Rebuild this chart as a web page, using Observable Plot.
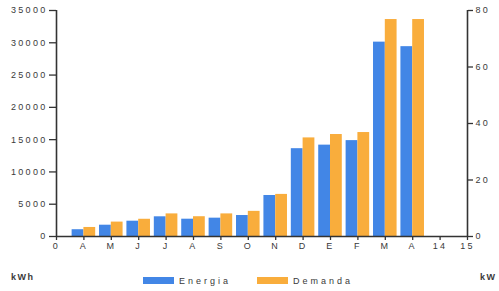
<!DOCTYPE html>
<html>
<head>
<meta charset="utf-8">
<script src="https://cdn.jsdelivr.net/npm/d3@7"></script>
<script src="https://cdn.jsdelivr.net/npm/@observablehq/plot@0.6"></script>
<style>
  html, body { margin:0; padding:0; background:#fff; width:499px; height:291px; overflow:hidden; }
  #wrap { position:relative; width:499px; height:291px; font-family:"Liberation Sans", Arial, sans-serif; color:#3a3a3a; }
  .lab { position:absolute; font-size:9px; letter-spacing:2.2px; white-space:nowrap; line-height:10px; }
  .sw { position:absolute; width:31px; height:7px; }
</style>
</head>
<body>
<div id="wrap"></div>
<script>
// Data
const categories = ["A","M","J","J","A","S","O","N","D","E","F","M","A"];
const energia = [1050, 1750, 2370, 3050, 2680, 2840, 3250, 6350, 13600, 14150, 14850, 30100, 29400]; // kWh
const demanda = [3.2, 5.1, 6.1, 8.0, 7.0, 8.0, 8.9, 14.9, 34.9, 36.1, 36.8, 76.8, 76.8]; // kW
const tickLabels = ["0","A","M","J","J","A","S","O","N","D","E","F","M","A","14","15"];
const leftTicks = [0, 5000, 10000, 15000, 20000, 25000, 30000, 35000];
const rightTicks = [0, 20, 40, 60, 80];
const seriesNames = ["Energia", "Demanda"];
const colors = ["#4286e6", "#f9ad3c"];

const k = 35000 / 80; // right-axis (kW) to left-axis (kWh) scale factor
const rows = categories.map((c, i) => ({pos: i + 1, cat: c, energia: energia[i], demanda: demanda[i]}));
const bw = 0.43;

const chart = Plot.plot({
  width: 499,
  height: 258,
  marginLeft: 56,
  marginRight: 32,
  marginTop: 10,
  marginBottom: 22,
  x: {domain: [0, 15]},
  y: {domain: [0, 35000]},
  style: {fontFamily: "'Liberation Sans', Arial, sans-serif", fontSize: "9px", letterSpacing: "2.3px", color: "#3a3a3a", background: "#fff"},
  marks: [
    Plot.rectY(rows, {x1: d => d.pos - bw, x2: d => d.pos, y: "energia", fill: colors[0]}),
    Plot.rectY(rows, {x1: d => d.pos, x2: d => d.pos + bw, y: d => d.demanda * k, fill: colors[1]}),
    Plot.axisY({anchor: "left", ticks: leftTicks, tickSize: 7, tickPadding: 2, tickFormat: d3.format("d"), label: null, stroke: "#333", strokeWidth: 1.3}),
    Plot.axisY({anchor: "right", ticks: rightTicks.map(v => v * k), tickSize: 5, tickPadding: 3, tickFormat: v => String(Math.round(v / k)), label: null, stroke: "#333", strokeWidth: 1.3}),
    Plot.axisX({ticks: d3.range(0, 16), tickSize: 4, tickPadding: 2, tickFormat: i => tickLabels[i], label: null, stroke: "#333", strokeWidth: 1.3}),
    Plot.ruleX([0, 15], {stroke: "#333", strokeWidth: 1.6}),
    Plot.ruleY([0], {stroke: "#333", strokeWidth: 1.6})
  ]
});

const wrap = document.getElementById("wrap");
chart.style.position = "absolute";
chart.style.left = "0px";
chart.style.top = "0px";
wrap.appendChild(chart);

function addLabel(text, left, top, extra) {
  const el = document.createElement("div");
  el.className = "lab";
  el.textContent = text;
  el.style.left = left + "px";
  el.style.top = top + "px";
  if (extra) Object.assign(el.style, extra);
  wrap.appendChild(el);
}
function addSwatch(color, left, top) {
  const el = document.createElement("div");
  el.className = "sw";
  el.style.background = color;
  el.style.left = left + "px";
  el.style.top = top + "px";
  wrap.appendChild(el);
}
addLabel("kWh", 11, 272, {fontWeight: "bold", letterSpacing: "1.5px"});
addLabel("kW", 480, 272, {fontWeight: "bold", letterSpacing: "1.5px"});
addSwatch(colors[0], 143, 277);
addLabel(seriesNames[0], 179, 276, {fontSize: "9px", letterSpacing: "3px"});
addSwatch(colors[1], 257, 277);
addLabel(seriesNames[1], 293, 276, {fontSize: "9px", letterSpacing: "3px"});
</script>
</body>
</html>
